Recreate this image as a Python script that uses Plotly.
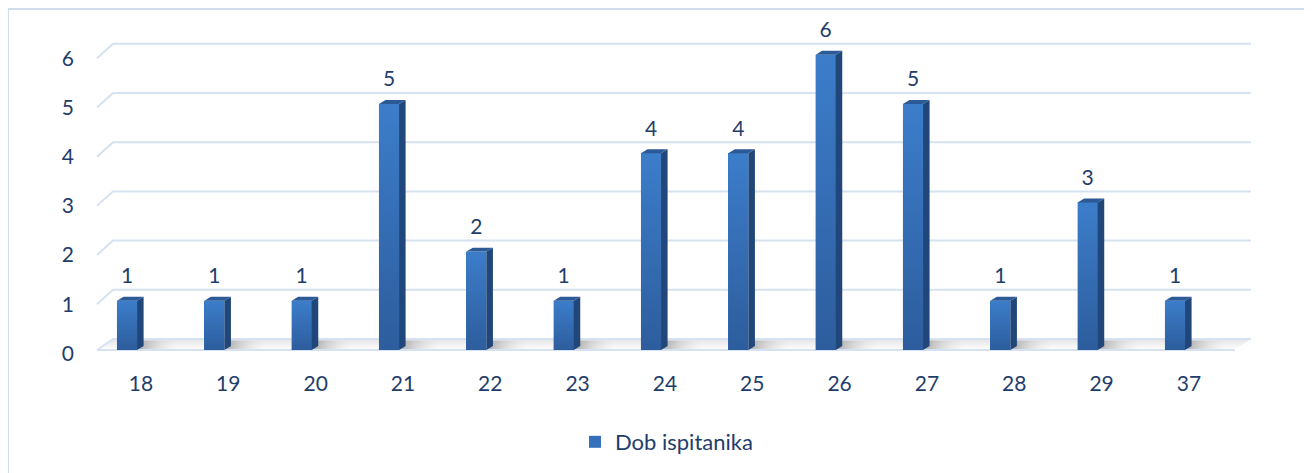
import plotly.graph_objects as go

categories = ["18", "19", "20", "21", "22", "23", "24", "25", "26", "27", "28", "29", "37"]
values = [1, 1, 1, 5, 2, 1, 4, 4, 6, 5, 1, 3, 1]
y_ticks = [0, 1, 2, 3, 4, 5, 6]
series_name = "Dob ispitanika"

TEXT = "#1F3D6B"
GRID = "#D6E1F1"
FRONT = "#3471BA"
FRONT_TOP = "#3C7DCA"
FRONT_BOT = "#2D5D9D"
SIDE = "#20467A"
TOP = "#2C5A96"
FONT = "Lato"
FS = 21

n = len(categories)
xs = list(range(n))
w = 0.23          # bar width (category units)
dx, dy = 0.075, 0.08   # bar depth offset
gx0, gx1 = -0.3435, -0.16  # front / back x of the wall diagonal
sh = 0.07         # front-plane label offset (base axis shift)
gdy = 0.224 + sh  # depth shift of back wall (in base-axis units)
gend = 12.87
XR = [-0.4237, 13.088]
YR = [-0.203, 6.504]
YR_BASE = [YR[0] + sh, YR[1] + sh]

fig = go.Figure()

# floor (base axes, drawn underneath)
fig.add_trace(go.Scatter(
    x=[gx0, gend - (gx1 - gx0), gend, gx1, gx0],
    y=[sh, sh, gdy, gdy, sh], mode="lines", line=dict(width=0),
    fill="toself",
    fillgradient=dict(type="vertical",
                      colorscale=[[0, "rgba(255,255,255,1)"], [1, "rgba(228,228,228,1)"]]),
    hoverinfo="skip", showlegend=False))

# bar shadows on floor
for i, v in zip(xs, values):
    fig.add_trace(go.Scatter(
        x=[i + w / 2, i + w / 2 + 0.45, i + w / 2 + 0.45 + 0.1, i + w / 2 + dx, i + w / 2],
        y=[sh + 0.02, sh + 0.02, gdy - 0.03, gdy - 0.03, sh + 0.02], mode="lines",
        line=dict(width=0), fill="toself",
        fillgradient=dict(type="horizontal",
                          colorscale=[[0, "rgba(140,140,140,0.75)"], [1, "rgba(255,255,255,0)"]]),
        hoverinfo="skip", showlegend=False))

# gridlines (back wall with left diagonal)
gxl, gyl = [], []
for t in y_ticks:
    if t == 0:
        continue
    gxl += [gx0, gx1, gend, None]
    gyl += [t, t + gdy, t + gdy, None]
fig.add_trace(go.Scatter(x=gxl, y=gyl, mode="lines", line=dict(color=GRID, width=2),
                         hoverinfo="skip", showlegend=False))
# floor edges
fig.add_trace(go.Scatter(
    x=[gx0, gx1, gend, None, gx0, gend - (gx1 - gx0)],
    y=[sh, gdy, gdy, None, sh, sh], mode="lines", line=dict(color=GRID, width=2),
    hoverinfo="skip", showlegend=False))

# front faces (overlay axes, drawn on top)
fig.add_trace(go.Bar(x=xs, y=values, width=w, marker=dict(color=FRONT, line=dict(width=0)),
                     name=series_name, hoverinfo="skip", xaxis="x2", yaxis="y2"))

# gradient shading of the front faces
for i, v in zip(xs, values):
    l, r = i - w / 2, i + w / 2
    fig.add_trace(go.Scatter(
        x=[l, r, r, l, l], y=[0, 0, v, v, 0], mode="lines", line=dict(width=0),
        fill="toself",
        fillgradient=dict(type="vertical", colorscale=[[0, FRONT_BOT], [1, FRONT_TOP]]),
        hoverinfo="skip", showlegend=False, xaxis="x2", yaxis="y2"))

# side and top faces
sx, sy = [], []
tx, ty = [], []
for i, v in zip(xs, values):
    r = i + w / 2
    l = i - w / 2
    sx += [r, r, r + dx, r + dx, r, None]
    sy += [0, v, v + dy, dy, 0, None]
    tx += [l, r, r + dx, l + dx, l, None]
    ty += [v, v, v + dy, v + dy, v, None]
fig.add_trace(go.Scatter(x=sx, y=sy, mode="lines", fill="toself", fillcolor=SIDE,
                         line=dict(width=0, color=SIDE), hoverinfo="skip", showlegend=False,
                         xaxis="x2", yaxis="y2"))
fig.add_trace(go.Scatter(x=tx, y=ty, mode="lines", fill="toself", fillcolor=TOP,
                         line=dict(width=0, color=TOP), hoverinfo="skip", showlegend=False,
                         xaxis="x2", yaxis="y2"))

# data labels
fig.add_trace(go.Scatter(x=xs, y=[v + 0.25 for v in values], mode="text",
                         text=[str(v) for v in values], textposition="top center",
                         textfont=dict(family=FONT, size=FS, color=TEXT), cliponaxis=False,
                         hoverinfo="skip", showlegend=False, xaxis="x2", yaxis="y2"))

fig.update_layout(
    template="none",
    width=1312, height=473,
    margin=dict(l=82, r=50, t=22, b=121, autoexpand=False),
    paper_bgcolor="white", plot_bgcolor="rgba(0,0,0,0)",
    font=dict(family=FONT, size=FS, color=TEXT),
    xaxis=dict(range=XR, tickmode="array",
               tickvals=[i + 0.16 for i in xs], ticktext=categories,
               showgrid=False, zeroline=False, showline=False, ticks="", automargin=False,
               ticklabelstandoff=9, tickfont=dict(family=FONT, size=FS, color=TEXT)),
    yaxis=dict(range=YR_BASE, tickmode="array", tickvals=y_ticks,
               showgrid=False, zeroline=False, showline=False, ticks="", automargin=False,
               ticklabelstandoff=15, tickfont=dict(family=FONT, size=FS, color=TEXT)),
    xaxis2=dict(range=XR, overlaying="x", visible=False, automargin=False),
    yaxis2=dict(range=YR, overlaying="y", visible=False, automargin=False),
    showlegend=True,
    legend=dict(orientation="h", x=0.411, xanchor="left", y=-0.2485, yanchor="middle",
                font=dict(family=FONT, size=22, color=TEXT), bgcolor="rgba(0,0,0,0)"),
    shapes=[dict(type="rect", xref="paper", yref="paper",
                 x0=(8 - 90) / 1180, x1=1.2, y0=-0.5, y1=(360 - 9) / 330,
                 line=dict(color="#D0DDEE", width=2), fillcolor="rgba(0,0,0,0)", layer="below")],
    bargap=0,
)

fig.write_html("out.html")
